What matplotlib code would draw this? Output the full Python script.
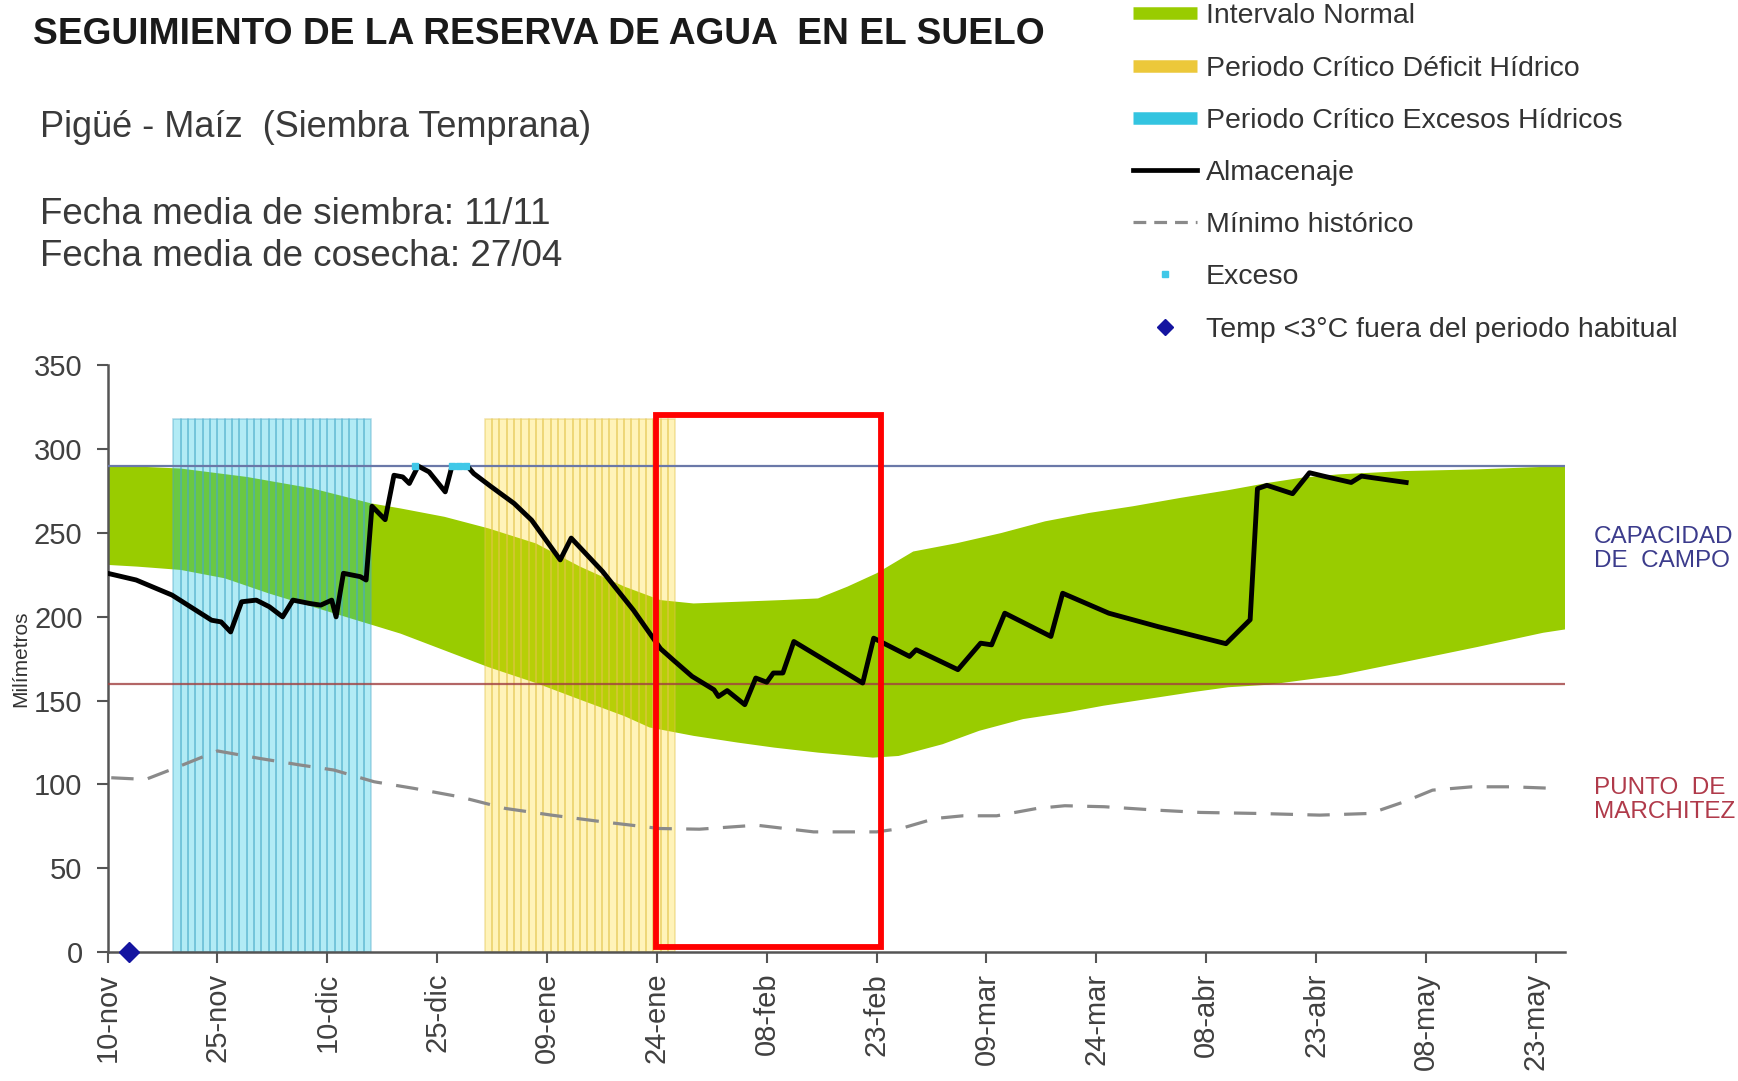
"""
plot.py
-------
Seguimiento de la reserva de agua en el suelo - Pigüé, maíz siembra temprana.

Eje x en días desde el 10-nov; eje y en milímetros.
"""

import numpy as np
import matplotlib
matplotlib.use("Agg")
import matplotlib.pyplot as plt
from matplotlib.lines import Line2D
from matplotlib.patches import Rectangle

plt.rcParams["font.family"] = ["Liberation Sans", "DejaVu Sans"]

# ─── Data ────────────────────────────────────────────────────────────────────

tick_days = [0, 15, 30, 45, 60, 75, 90, 105, 120, 135, 150, 165, 180, 195]
tick_labels = ["10-nov", "25-nov", "10-dic", "25-dic", "09-ene", "24-ene",
               "08-feb", "23-feb", "09-mar", "24-mar", "08-abr", "23-abr",
               "08-may", "23-may"]

# Intervalo normal (borde superior / inferior)
upper_days = [0, 10, 19, 28, 36, 40, 46, 52, 58.5, 64.5, 70.6, 75.5, 80, 86,
              92, 97, 101, 105, 110, 116, 122, 128, 134, 140, 146.5, 153,
              158.5, 163, 168, 177, 187, 199]
upper_mm = [290.5, 288.5, 283.5, 276.6, 267.7, 264.7, 259.7, 252.8, 243.8,
            230, 218, 210, 208, 209, 210, 211, 218, 226, 239, 244, 250, 257,
            262, 266, 271, 275.6, 280, 283, 285, 287, 288, 290]
lower_days = [0, 4, 10, 16, 22, 28, 34, 40, 46, 52, 58.5, 64.5, 70.6, 74, 80,
              86, 91, 97, 104.5, 108, 114, 119, 125, 131, 136, 142, 148, 153,
              158.5, 168, 177, 187, 196, 199]
lower_mm = [231, 230, 228, 223, 214, 206, 198, 190, 180, 170, 160.5, 150.6,
            140.7, 134, 129, 125, 122, 119, 116, 117, 124, 132, 139, 143, 147,
            151, 155, 158, 159.5, 165, 173, 182, 190.5, 192.5]

# Almacenaje
storage_days = [0, 3.9, 8.8, 14.2, 15.5, 16.8, 18.3, 20.3, 22.1, 23.9, 25.3,
                27.6, 29.1, 30.6, 31.2, 32.2, 34.5, 35.3, 36.1, 37.9, 39.1,
                40.3, 41.2, 42.4, 43.9, 46.1, 47, 49.1, 50, 52.4, 55.5, 57.9,
                61.8, 63.3, 67.6, 71.8, 75.5, 77.3, 79.8, 82.8, 83.4, 84.6, 87,
                88.5, 90, 90.9, 92.2, 93.7, 103.1, 104.6, 106.4, 109.5, 110.4,
                116.1, 119.2, 120.7, 122.5, 128.8, 130.4, 136.7, 143.4, 152.7,
                156, 157, 158.3, 161.8, 164.1, 166, 169.8, 171.2, 172.6, 177.3]
storage_mm = [226, 222, 213, 198, 197, 191, 209, 210, 206, 200, 210, 208, 207,
              210, 200, 226, 224, 222, 266, 258, 284.5, 283.5, 279.6, 290,
              286.5, 274.6, 289.5, 290, 285.5, 277.6, 267.7, 257.7, 234, 247,
              227, 204, 181, 174, 164.5, 156.5, 152.5, 156, 147.6, 163.5, 161,
              166.5, 166.5, 185.3, 160.5, 187.3, 183.3, 176.4, 180.4, 168.5,
              184.3, 183.3, 202.2, 188.3, 214.1, 202.2, 194.2, 184, 198.3,
              276.5, 278.5, 273.5, 286, 284, 280.2, 284, 283.1, 280.2]

# Mínimo histórico
min_days = [0.5, 5.2, 9.1, 15, 20.8, 26.3, 30.9, 36.4, 41.9, 48.1, 54.3, 60.6,
            67.6, 75.4, 80.8, 88.6, 96.4, 105, 108.3, 113, 116.8, 121.4, 126.9,
            130.7, 136.1, 143.1, 149.2, 157, 165.5, 172.4, 177, 180.9, 186.3,
            191.7, 197.9]
min_mm = [104, 103, 109.6, 120, 115.5, 111.6, 108.6, 101.6, 97.6, 92.6, 85.7,
          81.7, 77.7, 73.7, 73.3, 75.7, 71.7, 71.7, 73.7, 79.7, 81.3, 81.3,
          85.7, 87.3, 86.7, 84.7, 83.3, 82.7, 81.7, 82.7, 89.6, 96.6, 98.6,
          98.6, 97.6]

# Excesos y heladas
excess_days = [42, 47, 48, 49]
excess_mm = [290, 290, 290, 290]
frost_days = [2.9]
frost_mm = [0]

# Periodos críticos (día inicial, día final) y altura de las bandas
excess_period = (9, 36)
deficit_period = (51.5, 77)
period_top = 318

field_capacity = 290
wilting_point = 160

# Recuadro rojo (día inicial, día final, mm inferior, mm superior)
highlight_box = (74.9, 105.6, 3.3, 320.2)

# ─── Colours ─────────────────────────────────────────────────────────────────

GREEN = "#99cc00"
CYAN = (0.0, 0.75, 0.88)
YELLOW = (1.0, 0.85, 0.1)


def draw_period(ax, period, face, edge):
    """Draw a critical period as thin vertical daily stripes."""
    days = np.arange(period[0], period[1])
    ax.bar(days, period_top, width=1, align="edge", color=(*face, 0.30),
           edgecolor=(*edge, 0.45), linewidth=1.1, zorder=2)


# ─── Figure ──────────────────────────────────────────────────────────────────

fig = plt.figure(figsize=(17.38, 10.81), dpi=100)
ax = fig.add_axes([0.0619, 0.1193, 0.8386, 0.5426])

# Normal interval band
ax.fill(np.concatenate([upper_days, lower_days[::-1]]),
        np.concatenate([upper_mm, lower_mm[::-1]]),
        color=GREEN, linewidth=0, zorder=1)

draw_period(ax, excess_period, CYAN, (0.3, 0.66, 0.78))
draw_period(ax, deficit_period, YELLOW, (0.88, 0.76, 0.3))

ax.axhline(field_capacity, color="#6a78a8", linewidth=1.6, zorder=3)
ax.axhline(wilting_point, color="#a04040", linewidth=1.6, alpha=0.8, zorder=3)

ax.plot(min_days, min_mm, color="#8a8a8a", linewidth=2.3,
        dashes=(7, 4.5), zorder=4)
ax.plot(storage_days, storage_mm, color="black", linewidth=3.5, zorder=5)
ax.plot(excess_days, excess_mm, linestyle="none", marker="s", markersize=5,
        color="#40c8e8", zorder=6)
ax.plot(frost_days, frost_mm, linestyle="none", marker="D", markersize=10,
        color="#1414a0", clip_on=False, zorder=7)

x0, x1, y0, y1 = highlight_box
ax.add_patch(Rectangle((x0, y0), x1 - x0, y1 - y0, fill=False,
                       edgecolor="#ff0000", linewidth=4.2, clip_on=False,
                       zorder=8))

# Axes styling
ax.set_xlim(0, 199)
ax.set_ylim(0, 350)
ax.set_xticks(tick_days)
ax.set_xticklabels(tick_labels, rotation=90)
ax.set_yticks(range(0, 351, 50))
for side in ("top", "right"):
    ax.spines[side].set_visible(False)
for side in ("left", "bottom"):
    ax.spines[side].set_color("#555555")
    ax.spines[side].set_linewidth(1.8)
ax.tick_params(axis="both", colors="#555555", labelcolor="#404040",
               labelsize=21, length=8, width=1.5)
ax.tick_params(axis="y", pad=10)
ax.tick_params(axis="x", pad=7)
ax.set_ylabel("Milímetros", fontsize=15, color="#333333")
ax.yaxis.set_label_coords(-0.053, 0.50)

# ─── Texts ───────────────────────────────────────────────────────────────────

fig.text(33 / 1738, 1 - 44 / 1081,
         "SEGUIMIENTO DE LA RESERVA DE AGUA  EN EL SUELO",
         fontsize=26.7, fontweight="bold", color="#1a1a1a", va="baseline")
fig.text(40 / 1738, 1 - 137 / 1081, "Pigüé - Maíz  (Siembra Temprana)",
         fontsize=26, color="#3a3a3a", va="baseline")
fig.text(40 / 1738, 1 - 224 / 1081, "Fecha media de siembra: 11/11",
         fontsize=26.5, color="#3a3a3a", va="baseline")
fig.text(40 / 1738, 1 - 266 / 1081, "Fecha media de cosecha: 27/04",
         fontsize=26.5, color="#3a3a3a", va="baseline")

fig.text(1594 / 1738, 1 - 549 / 1081, "CAPACIDAD\nDE  CAMPO",
         fontsize=17.5, color="#3c3c8c", va="center", linespacing=1.15)
fig.text(1594 / 1738, 1 - 800 / 1081, "PUNTO  DE\nMARCHITEZ",
         fontsize=17.5, color="#b03a4a", va="center", linespacing=1.15)

# ─── Legend ──────────────────────────────────────────────────────────────────

handles = [
    Line2D([], [], color=GREEN, linewidth=9, solid_capstyle="butt"),
    Line2D([], [], color="#ecc83a", linewidth=9, solid_capstyle="butt"),
    Line2D([], [], color="#33c4e0", linewidth=9, solid_capstyle="butt"),
    Line2D([], [], color="black", linewidth=3.4),
    Line2D([], [], color="#8a8a8a", linewidth=2.3, dashes=(4, 2.5)),
    Line2D([], [], linestyle="none", marker="s", markersize=4,
           color="#40c8e8"),
    Line2D([], [], linestyle="none", marker="D", markersize=8,
           color="#1414a0"),
]
labels = ["Intervalo Normal", "Periodo Crítico Déficit Hídrico",
          "Periodo Crítico Excesos Hídricos", "Almacenaje",
          "Mínimo histórico", "Exceso",
          "Temp <3°C fuera del periodo habitual"]
leg = fig.legend(handles, labels, loc="upper left",
                 bbox_to_anchor=(1133 / 1738, 1 - 3.4 / 1081), frameon=False,
                 fontsize=20.5, handlelength=2.25, handletextpad=0.3,
                 labelspacing=0.92, borderpad=0, borderaxespad=0)
for text in leg.get_texts():
    text.set_color("#333333")

fig.savefig("out.png", dpi=100)
